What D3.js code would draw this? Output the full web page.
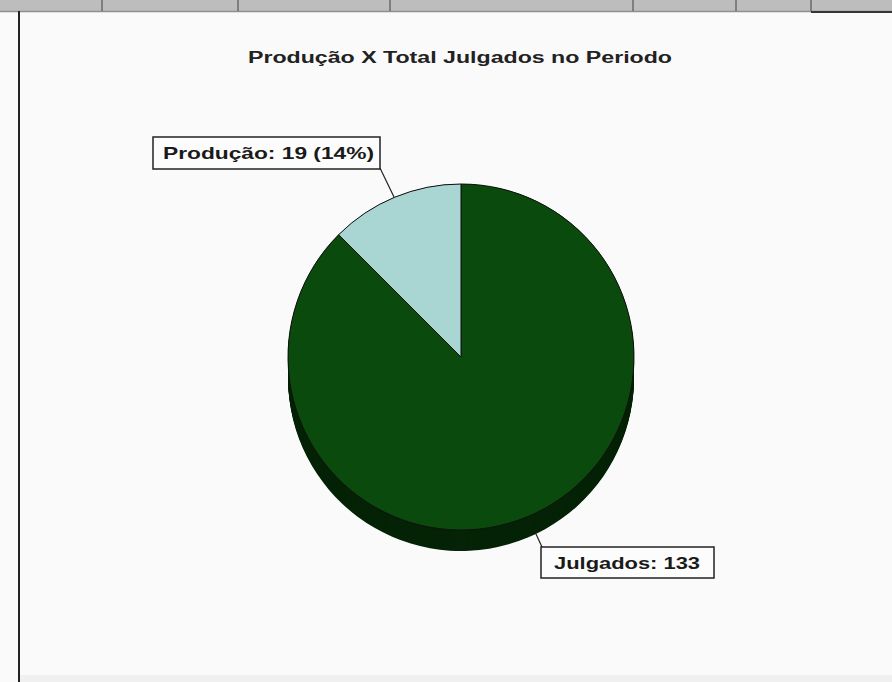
<!DOCTYPE html>
<html><head><meta charset="utf-8">
<script src="https://cdn.jsdelivr.net/npm/d3@7"></script>
<style>html,body{margin:0;padding:0;background:#fafafa;}svg{display:block;}</style>
</head><body>
<svg id="c" width="892" height="682"></svg>
<script>
const title = "Produção X Total Julgados no Periodo";
const categories = ["Julgados", "Produção"];
const values = [133, 19];
const labels = ["Julgados: 133", "Produção: 19 (14%)"];
const colors = ["#0a4a0c", "#a9d6d2"];
const shadowColors = ["#052306", "#052306"];

const svg = d3.select("#c");
svg.append("rect").attr("x",0).attr("y",0).attr("width",892).attr("height",682).attr("fill","#fafafb");
// scanned top band
const band = svg.append("g");
band.append("rect").attr("x",0).attr("y",0).attr("width",892).attr("height",11).attr("fill","#bdbdbd");
band.append("line").attr("x1",0).attr("x2",892).attr("y1",11.5).attr("y2",11.5).attr("stroke","#8f8f8f").attr("stroke-width",1.5);
band.append("line").attr("x1",811).attr("x2",892).attr("y1",12).attr("y2",12).attr("stroke","#333").attr("stroke-width",2);
[102, 238, 390, 633, 736, 811].forEach(x => {
  band.append("line").attr("x1",x).attr("x2",x).attr("y1",0).attr("y2",11).attr("stroke","#555").attr("stroke-width",1.2);
});
// left frame line
svg.append("line").attr("x1",19).attr("x2",19).attr("y1",11).attr("y2",682).attr("stroke","#222").attr("stroke-width",2);
// bottom faint band
svg.append("rect").attr("x",20).attr("y",675).attr("width",872).attr("height",7).attr("fill","#f0f0f0");

// title
svg.append("text").attr("x",460).attr("y",63).attr("text-anchor","middle")
  .attr("font-family","Liberation Sans, Arial, sans-serif").attr("font-weight","bold")
  .attr("font-size",16).attr("fill","#222")
  .attr("textLength",424).attr("lengthAdjust","spacingAndGlyphs")
  .text(title);

const cx = 461, cy = 357, r = 173, depth = 21;
const pie = d3.pie().sort(null).startAngle(0).endAngle(2*Math.PI);
const arcs = pie(values);
const arc = d3.arc().innerRadius(0).outerRadius(r);

// 3D side
for (let k = depth; k >= 0; k -= 1) {
  svg.append("g").attr("transform",`translate(${cx},${cy+k})`)
    .selectAll("path").data(arcs).join("path")
    .attr("d",arc).attr("fill",(d,i)=>shadowColors[i]);
}
// face
const face = svg.append("g").attr("transform",`translate(${cx},${cy})`);
face.selectAll("path").data(arcs).join("path")
  .attr("d",arc).attr("fill",(d,i)=>colors[i])
  .attr("stroke","#111").attr("stroke-width",1);

// labels
const labelBoxes = [
  {x:541, y:547, w:173, h:31, tx:554, tl:146, lx1:536, ly1:534, lx2:542, ly2:547},
  {x:153, y:137, w:227, h:32, tx:163, tl:211, lx1:394, ly1:197, lx2:380, ly2:168}
];
const lg = svg.append("g");
labelBoxes.forEach((b,i) => {
  lg.append("line").attr("x1",b.lx1).attr("y1",b.ly1).attr("x2",b.lx2).attr("y2",b.ly2)
    .attr("stroke","#222").attr("stroke-width",1.2);
  lg.append("rect").attr("x",b.x).attr("y",b.y).attr("width",b.w).attr("height",b.h)
    .attr("fill","#fcfcfc").attr("stroke","#222").attr("stroke-width",1.5);
  lg.append("text").attr("x",b.tx).attr("y",b.y+b.h/2+6)
    .attr("font-family","Liberation Sans, Arial, sans-serif").attr("font-weight","bold")
    .attr("font-size",17).attr("fill","#1a1a1a")
    .attr("textLength",b.tl).attr("lengthAdjust","spacingAndGlyphs")
    .text(labels[i]);
});
</script>
</body></html>
